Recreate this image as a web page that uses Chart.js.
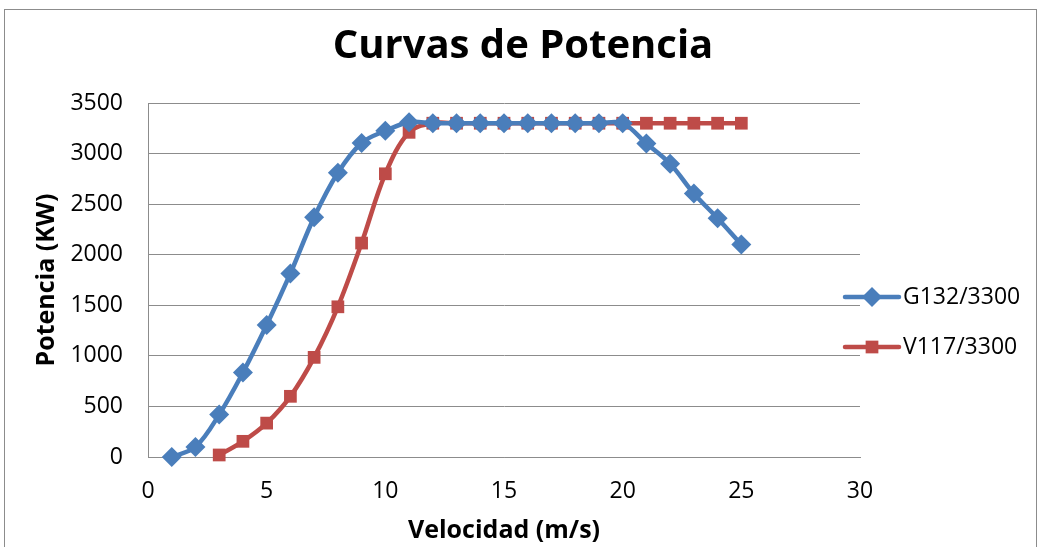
<!DOCTYPE html>
<html>
<head>
<meta charset="utf-8">
<script src="https://cdn.jsdelivr.net/npm/chart.js"></script>
<style>
  html, body { margin: 0; padding: 0; background: #fff; }
  #wrap { width: 1041px; height: 547px; position: relative; }
</style>
</head>
<body>
<div id="wrap"><canvas id="myChart" width="1041" height="547"></canvas></div>
<script>
// velocidad (m/s) and potencia (kW)
const g132Speed = [1, 2, 3, 4, 5, 6, 7, 8, 9, 10, 11, 12, 13, 14, 15, 16, 17, 18, 19, 20, 21, 22, 23, 24, 25];
const g132Power = [0, 100, 420, 835, 1305, 1815, 2370, 2810, 3105, 3225, 3310, 3300, 3300, 3300, 3300, 3300, 3300, 3300, 3300, 3300, 3100, 2900, 2605, 2360, 2100];
const v117Speed = [3, 4, 5, 6, 7, 8, 9, 10, 11, 12, 13, 14, 15, 16, 17, 18, 19, 20, 21, 22, 23, 24, 25];
const v117Power = [20, 155, 335, 600, 985, 1485, 2115, 2800, 3210, 3300, 3300, 3300, 3300, 3300, 3300, 3300, 3300, 3300, 3300, 3300, 3300, 3300, 3300];
const xTicks = [0, 5, 10, 15, 20, 25, 30];
const yTicks = [0, 500, 1000, 1500, 2000, 2500, 3000, 3500];
const chartTitle = 'Curvas de Potencia';

const FONT = '"Open Sans", "Noto Sans", sans-serif';

const toPoints = (xs, ys) => xs.map((x, i) => ({ x: x, y: ys[i] }));

// white page, grey frame and the big title centred on the whole picture
const framePlugin = {
  id: 'frame',
  beforeDraw(chart) {
    const ctx = chart.ctx;
    ctx.save();
    ctx.fillStyle = '#fff';
    ctx.fillRect(0, 0, chart.width, chart.height);
    ctx.strokeStyle = '#8c8c8c';
    ctx.lineWidth = 1;
    ctx.strokeRect(4.5, 9.5, 1032, 600);
    ctx.fillStyle = '#000';
    ctx.font = 'bold 40px ' + FONT;
    ctx.textAlign = 'center';
    ctx.textBaseline = 'alphabetic';
    ctx.fillText(chartTitle, 523, 58);
    ctx.restore();
  }
};

// legend on the right, drawn from the datasets
const sideLegend = {
  id: 'sideLegend',
  afterDraw(chart) {
    const ctx = chart.ctx;
    const ys = [297, 347];
    chart.data.datasets.forEach((ds, i) => {
      const y = ys[i];
      ctx.save();
      ctx.strokeStyle = ds.borderColor;
      ctx.lineWidth = ds.borderWidth;
      ctx.lineCap = 'round';
      ctx.beginPath();
      ctx.moveTo(845, y);
      ctx.lineTo(899, y);
      ctx.stroke();
      ctx.fillStyle = ds.pointBackgroundColor;
      ctx.strokeStyle = ds.pointBorderColor;
      Chart.helpers.drawPoint(ctx, {
        pointStyle: ds.pointStyle,
        radius: ds.pointRadius,
        rotation: 0,
        borderWidth: 0
      }, 872, y);
      ctx.fillStyle = '#000';
      ctx.font = '23px ' + FONT;
      ctx.textBaseline = 'middle';
      ctx.textAlign = 'left';
      ctx.fillText(ds.label, 903, y);
      ctx.restore();
    });
  }
};

const ctx = document.getElementById('myChart').getContext('2d');
new Chart(ctx, {
  type: 'line',
  data: {
    datasets: [{
      label: 'G132/3300',
      data: toPoints(g132Speed, g132Power),
      borderColor: '#4a7ebb',
      backgroundColor: '#4a7ebb',
      pointBackgroundColor: '#4a7ebb',
      pointBorderColor: '#4a7ebb',
      pointStyle: 'rectRot',
      pointRadius: 10,
      pointBorderWidth: 0,
      borderWidth: 4.5,
      tension: 0.35,
      clip: false
    }, {
      label: 'V117/3300',
      data: toPoints(v117Speed, v117Power),
      borderColor: '#be4b48',
      backgroundColor: '#be4b48',
      pointBackgroundColor: '#be4b48',
      pointBorderColor: '#be4b48',
      pointStyle: 'rect',
      pointRadius: 9,
      pointBorderWidth: 0,
      borderWidth: 4.5,
      tension: 0.35,
      clip: false
    }]
  },
  options: {
    responsive: false,
    animation: false,
    layout: { padding: { left: 0, top: 103, right: 181, bottom: 0 } },
    plugins: {
      legend: { display: false },
      tooltip: { enabled: false },
      title: { display: false }
    },
    scales: {
      x: {
        type: 'linear',
        min: 0,
        max: 30,
        afterBuildTicks: (scale) => { scale.ticks = xTicks.map(v => ({ value: v })); },
        afterFit: (scale) => { scale.height = 90; },
        grid: { display: false, drawTicks: false },
        border: { display: true, color: '#8c8c8c', width: 1 },
        ticks: { color: '#000', padding: 21, font: { family: FONT, size: 23 }, callback: v => String(v) },
        title: {
          display: true,
          text: 'Velocidad (m/s)',
          color: '#000',
          font: { family: FONT, size: 25, weight: 'bold', lineHeight: 1.2 },
          padding: { top: 0, bottom: 1 }
        }
      },
      y: {
        min: 0,
        max: 3500,
        afterBuildTicks: (scale) => { scale.ticks = yTicks.map(v => ({ value: v })); },
        afterFit: (scale) => { scale.width = 148; },
        grid: { color: '#8c8c8c', lineWidth: 1, drawTicks: false },
        border: { display: true, color: '#8c8c8c', width: 1 },
        ticks: { color: '#000', padding: 25, font: { family: FONT, size: 23 }, callback: v => String(v) },
        title: {
          display: true,
          text: 'Potencia (KW)',
          color: '#000',
          font: { family: FONT, size: 25, weight: 'bold', lineHeight: 1.2 },
          padding: { top: 32, bottom: 0 }
        }
      }
    }
  },
  plugins: [framePlugin, sideLegend]
});
</script>
</body>
</html>
